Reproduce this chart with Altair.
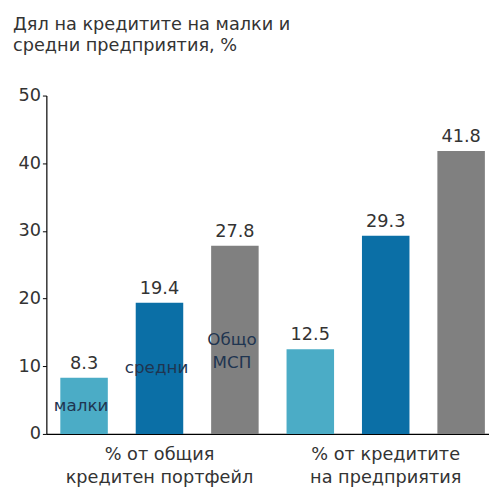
import altair as alt
import pandas as pd

title_lines = ["Дял на кредитите на малки и", "средни предприятия, %"]
groups = ["% от общия\nкредитен портфейл", "% от кредитите\nна предприятия"]
series = ["малки", "средни", "Общо\nМСП"]
values_portfolio = [8.3, 19.4, 27.8]
values_enterprise = [12.5, 29.3, 41.8]
colors = ["#4bacc6", "#0b6fa6", "#808080"]
y_ticks = [0, 10, 20, 30, 40, 50]

rows = []
for g, vals in zip(groups, [values_portfolio, values_enterprise]):
    for s, v in zip(series, vals):
        rows.append({"group": g, "series": s, "value": v, "slot": g + "|" + s,
                     "label": f"{v:.1f}"})
df = pd.DataFrame(rows)
slots = list(df["slot"])

FONT = "DejaVu Sans"

x = alt.X("slot:N", sort=slots,
          scale=alt.Scale(range=[0, 460], paddingInner=0.37, paddingOuter=0.185),
          axis=alt.Axis(labels=False, ticks=False, title=None, domainColor="black",
                        domainWidth=1.2))
y = alt.Y("value:Q", scale=alt.Scale(domain=[0, 50]),
          axis=alt.Axis(values=y_ticks, grid=False, tickSize=4, labelFontSize=18,
                        labelFont=FONT, labelColor="#333", domainColor="black",
                        tickColor="black", title=None, labelPadding=2, domainWidth=1.2))

base = alt.Chart(df)

bars = base.mark_bar().encode(
    x=x, y=y,
    color=alt.Color("series:N", scale=alt.Scale(domain=series, range=colors), legend=None),
)

values = base.mark_text(baseline="bottom", dy=-5, fontSize=18, font=FONT, color="#333").encode(
    x=alt.X("slot:N", sort=slots), y="value:Q", text="label:N"
)

inbar = base.transform_filter(alt.datum.group == groups[0]).transform_calculate(
    mid="datum.value / 2"
).mark_text(fontSize=17, font=FONT, color="#1f3550", lineBreak="\n", lineHeight=24, dx=-3).encode(
    x=alt.X("slot:N", sort=slots), y="mid:Q", text="series:N"
)

glabels = base.transform_filter(alt.datum.series == series[1]).mark_text(
    fontSize=18, font=FONT, color="#333", lineBreak="\n", lineHeight=23, baseline="top"
).encode(
    x=alt.X("slot:N", sort=slots), y=alt.value(357), text="group:N"
)

chart = alt.layer(bars, values, inbar, glabels).properties(
    width=450, height=344,
    title=alt.Title(title_lines, anchor="start", fontSize=18, font=FONT,
                    fontWeight="normal", color="#333", lineHeight=22, dx=-5, offset=32),
    autosize="none",
    padding={"left": 39, "top": 85, "right": 0, "bottom": 54},
).configure_view(stroke=None)

chart.save("out.html", embed_options={"renderer": "svg", "actions": False})
